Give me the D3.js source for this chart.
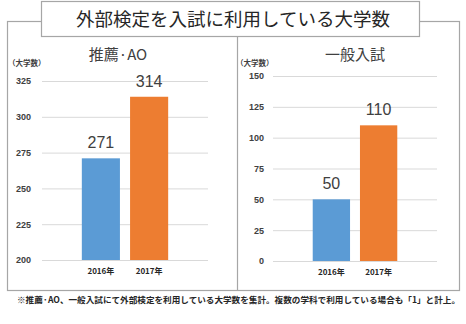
<!DOCTYPE html>
<html lang="ja">
<head>
<meta charset="UTF-8">
<script src="https://d3js.org/d3.v7.min.js"></script>
<style>
  body { margin: 0; background: #fff; }
  svg { display: block; }
  .jp { font-family: "Noto Sans CJK JP", sans-serif; }
  .num { font-family: "Liberation Sans", Arial, sans-serif; }
</style>
</head>
<body>
<div id="chart"></div>
<script>
const years = ["2016年", "2017年"];
const suisenValues = [271, 314];
const ippanValues = [50, 110];
const suisenTicks = [200, 225, 250, 275, 300, 325];
const ippanTicks = [0, 25, 50, 75, 100, 125, 150];
const barColors = ["#5b9bd5", "#ed7d31"];

const W = 466, H = 324;
const svg = d3.select("#chart").append("svg")
  .attr("width", W).attr("height", H);

// outer frame
svg.append("rect")
  .attr("x", 7.5).attr("y", 21.5).attr("width", 452).attr("height", 269)
  .attr("fill", "none").attr("stroke", "#a6a6a6").attr("stroke-width", 1.2);
svg.append("line")
  .attr("x1", 237.5).attr("x2", 237.5).attr("y1", 37).attr("y2", 290.5)
  .attr("stroke", "#a6a6a6").attr("stroke-width", 1.2);

// title box
svg.append("rect")
  .attr("x", 41.5).attr("y", 1.5).attr("width", 378).attr("height", 35)
  .attr("fill", "#fff").attr("stroke", "#a6a6a6").attr("stroke-width", 1.2);
svg.append("text").attr("class", "jp")
  .attr("x", 233).attr("y", 26)
  .attr("text-anchor", "middle").attr("font-size", 18.5).attr("fill", "#262626")
  .text("外部検定を入試に利用している大学数");

function drawPanel(p) {
  const g = svg.append("g");
  const y = d3.scaleLinear().domain(p.domain).range([p.bottom, p.top]);
  const x = d3.scaleBand().domain(years).range(p.xr)
    .paddingInner(0.21).paddingOuter(0.1);

  // gridlines + tick labels via axis
  const axis = d3.axisLeft(y).tickValues(p.ticks)
    .tickSize(-(p.gridR - p.gridL)).tickPadding(p.gridL - p.labelR);
  const ag = g.append("g").attr("transform", `translate(${p.gridL},0)`).call(axis);
  ag.select(".domain").remove();
  ag.selectAll(".tick line").attr("stroke", "#d9d9d9").attr("stroke-width", 1);
  ag.selectAll(".tick text").attr("class", "num")
    .attr("font-size", 9).attr("fill", "#404040").attr("font-weight", "bold");

  g.append("text").attr("class", "jp")
    .attr("x", p.unitX).attr("y", 66).attr("font-size", 7.5).attr("font-weight", "bold")
    .attr("fill", "#404040").text("（大学数）");

  g.append("text").attr("class", "jp")
    .attr("x", p.titleX).attr("y", 60).attr("text-anchor", "middle")
    .attr("font-size", 15).attr("fill", "#404040").text(p.title);

  g.selectAll("rect.bar").data(p.values).join("rect")
    .attr("class", "bar")
    .attr("x", (d, i) => x(years[i]))
    .attr("width", x.bandwidth())
    .attr("y", d => y(d))
    .attr("height", d => y(p.domain[0]) - y(d))
    .attr("fill", (d, i) => barColors[i]);

  g.selectAll("text.val").data(p.values).join("text")
    .attr("class", "val num")
    .attr("x", (d, i) => x(years[i]) + x.bandwidth() / 2)
    .attr("y", d => y(d) - 10)
    .attr("text-anchor", "middle").attr("font-size", 16).attr("fill", "#404040")
    .text(d => d);

  g.selectAll("text.cat").data(years).join("text")
    .attr("class", "cat jp")
    .attr("x", d => x(d) + x.bandwidth() / 2)
    .attr("y", p.bottom + 14)
    .attr("text-anchor", "middle").attr("font-size", 8).attr("font-weight", "bold")
    .attr("fill", "#262626").text(d => d);
}

drawPanel({
  title: "推薦·AO", titleX: 118, unitX: 8,
  domain: [200, 325], ticks: suisenTicks, values: suisenValues,
  top: 81, bottom: 260, gridL: 42, gridR: 208, labelR: 31, xr: [77, 173]
});
drawPanel({
  title: "一般入試", titleX: 355, unitX: 236,
  domain: [0, 150], ticks: ippanTicks, values: ippanValues,
  top: 76, bottom: 261, gridL: 273, gridR: 437, labelR: 264, xr: [308, 402]
});

svg.append("text").attr("class", "jp")
  .attr("x", 17).attr("y", 303).attr("font-size", 8.5).attr("font-weight", "bold")
  .attr("fill", "#262626").attr("textLength", 443).attr("lengthAdjust", "spacingAndGlyphs")
  .text("※推薦·AO、一般入試にて外部検定を利用している大学数を集計。複数の学科で利用している場合も「1」と計上。");
</script>
</body>
</html>
